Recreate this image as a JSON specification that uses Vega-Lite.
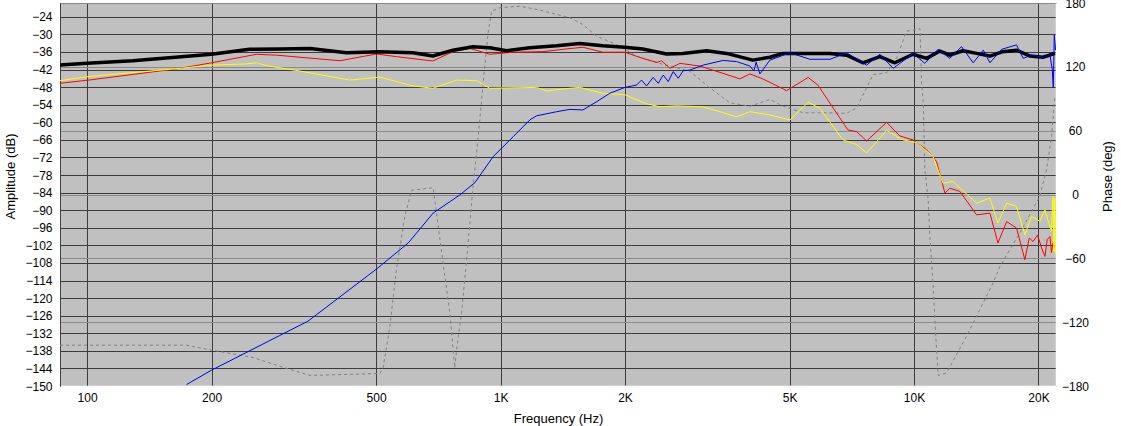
{
  "$schema": "https://vega.github.io/schema/vega-lite/v6.json",
  "width": 996,
  "height": 383,
  "autosize": "none",
  "padding": {"left": 60, "top": 3, "right": 65, "bottom": 40},
  "background": "white",
  "datasets": {
    "phase": [
      {"freq": 86, "phase": -141.6}, {"freq": 174, "phase": -141.6}, {"freq": 200, "phase": -146.3},
      {"freq": 252, "phase": -153.2}, {"freq": 292, "phase": -161.4}, {"freq": 346, "phase": -170.1},
      {"freq": 511, "phase": -168.2}, {"freq": 520, "phase": -162.9}, {"freq": 540, "phase": -123.8},
      {"freq": 560, "phase": -70.5}, {"freq": 587, "phase": -20.4}, {"freq": 609, "phase": 4.0},
      {"freq": 687, "phase": 6.3}, {"freq": 700, "phase": -17.2}, {"freq": 726, "phase": -64.2},
      {"freq": 754, "phase": -111.2}, {"freq": 775, "phase": -162.9}, {"freq": 783, "phase": -145.7},
      {"freq": 805, "phase": -111.2}, {"freq": 835, "phase": -45.4}, {"freq": 858, "phase": 7.8},
      {"freq": 875, "phase": 39.2}, {"freq": 891, "phase": 70.5}, {"freq": 908, "phase": 105},
      {"freq": 933, "phase": 152}, {"freq": 951, "phase": 172.3}, {"freq": 996, "phase": 175.5},
      {"freq": 1114, "phase": 177}, {"freq": 1245, "phase": 173.3}, {"freq": 1472, "phase": 166.1},
      {"freq": 1582, "phase": 159.8}, {"freq": 1707, "phase": 148.8}, {"freq": 1908, "phase": 141},
      {"freq": 2133, "phase": 130}, {"freq": 2474, "phase": 122.2}, {"freq": 2870, "phase": 115.9},
      {"freq": 3208, "phase": 100.3}, {"freq": 3586, "phase": 86.2}, {"freq": 4009, "phase": 83},
      {"freq": 4481, "phase": 89.3}, {"freq": 4827, "phase": 83}, {"freq": 5395, "phase": 76.8},
      {"freq": 6146, "phase": 76.8}, {"freq": 6872, "phase": 76.2}, {"freq": 7265, "phase": 81.5},
      {"freq": 7680, "phase": 100.3}, {"freq": 7966, "phase": 112.8}, {"freq": 8586, "phase": 114.4},
      {"freq": 9078, "phase": 128.5}, {"freq": 9594, "phase": 153.5}, {"freq": 10340, "phase": 155.8},
      {"freq": 10430, "phase": 105}, {"freq": 10530, "phase": 86.2}, {"freq": 10620, "phase": 23.5},
      {"freq": 10820, "phase": -4.7}, {"freq": 10920, "phase": -39.2}, {"freq": 11090, "phase": -76.8},
      {"freq": 11300, "phase": -136.3}, {"freq": 11440, "phase": -170.1}, {"freq": 11990, "phase": -167.6},
      {"freq": 13400, "phase": -133.2}, {"freq": 15540, "phase": -83}, {"freq": 16140, "phase": -67.4},
      {"freq": 18030, "phase": -36}, {"freq": 20150, "phase": -1.6}, {"freq": 20920, "phase": 23.5},
      {"freq": 21520, "phase": 54.8}, {"freq": 21910, "phase": 92.4}
    ],
    "amp": [
      {"series": "black", "freq": 86, "db": -40.5}, {"series": "black", "freq": 100, "db": -39.9},
      {"series": "black", "freq": 129, "db": -39.0}, {"series": "black", "freq": 200, "db": -36.8},
      {"series": "black", "freq": 247, "db": -35.1}, {"series": "black", "freq": 292, "db": -35.0},
      {"series": "black", "freq": 346, "db": -34.8}, {"series": "black", "freq": 424, "db": -36.3},
      {"series": "black", "freq": 511, "db": -35.9}, {"series": "black", "freq": 614, "db": -36.3},
      {"series": "black", "freq": 686, "db": -37.4}, {"series": "black", "freq": 767, "db": -35.4},
      {"series": "black", "freq": 857, "db": -34.2}, {"series": "black", "freq": 942, "db": -34.6},
      {"series": "black", "freq": 1034, "db": -35.6}, {"series": "black", "freq": 1177, "db": -34.6},
      {"series": "black", "freq": 1366, "db": -33.9}, {"series": "black", "freq": 1555, "db": -33.1},
      {"series": "black", "freq": 1768, "db": -33.9}, {"series": "black", "freq": 1998, "db": -34.4},
      {"series": "black", "freq": 2208, "db": -35.0}, {"series": "black", "freq": 2522, "db": -36.7},
      {"series": "black", "freq": 2760, "db": -36.5}, {"series": "black", "freq": 3150, "db": -35.6},
      {"series": "black", "freq": 3521, "db": -36.5}, {"series": "black", "freq": 4074, "db": -38.8},
      {"series": "black", "freq": 4481, "db": -37.8}, {"series": "black", "freq": 4819, "db": -36.5},
      {"series": "black", "freq": 5387, "db": -36.5}, {"series": "black", "freq": 6263, "db": -36.5},
      {"series": "black", "freq": 6872, "db": -37.1}, {"series": "black", "freq": 7520, "db": -39.7},
      {"series": "black", "freq": 8270, "db": -37.6}, {"series": "black", "freq": 8990, "db": -39.7},
      {"series": "black", "freq": 9940, "db": -36.8}, {"series": "black", "freq": 10730, "db": -38.2},
      {"series": "black", "freq": 11550, "db": -35.7}, {"series": "black", "freq": 12210, "db": -37.1},
      {"series": "black", "freq": 13130, "db": -35.6}, {"series": "black", "freq": 14170, "db": -36.5},
      {"series": "black", "freq": 15260, "db": -37.4}, {"series": "black", "freq": 16400, "db": -35.9},
      {"series": "black", "freq": 17700, "db": -35.4}, {"series": "black", "freq": 19080, "db": -37.4},
      {"series": "black", "freq": 20500, "db": -37.8}, {"series": "black", "freq": 21920, "db": -36.5},

      {"series": "red", "freq": 86, "db": -46.7}, {"series": "red", "freq": 101, "db": -45.6},
      {"series": "red", "freq": 168, "db": -41.6}, {"series": "red", "freq": 200, "db": -39.7},
      {"series": "red", "freq": 257, "db": -36.8}, {"series": "red", "freq": 287, "db": -37.1},
      {"series": "red", "freq": 327, "db": -37.8}, {"series": "red", "freq": 409, "db": -39.0},
      {"series": "red", "freq": 501, "db": -36.7}, {"series": "red", "freq": 560, "db": -37.6},
      {"series": "red", "freq": 686, "db": -39.1}, {"series": "red", "freq": 767, "db": -35.9},
      {"series": "red", "freq": 843, "db": -34.8}, {"series": "red", "freq": 942, "db": -36.8},
      {"series": "red", "freq": 1071, "db": -36.1}, {"series": "red", "freq": 1266, "db": -35.9},
      {"series": "red", "freq": 1415, "db": -35.1}, {"series": "red", "freq": 1582, "db": -34.4},
      {"series": "red", "freq": 1768, "db": -36.1}, {"series": "red", "freq": 1998, "db": -36.1},
      {"series": "red", "freq": 2208, "db": -38.2}, {"series": "red", "freq": 2390, "db": -39.6},
      {"series": "red", "freq": 2450, "db": -39.0}, {"series": "red", "freq": 2568, "db": -41.6},
      {"series": "red", "freq": 2715, "db": -39.9}, {"series": "red", "freq": 3034, "db": -40.8},
      {"series": "red", "freq": 3450, "db": -43.3}, {"series": "red", "freq": 3793, "db": -45.2},
      {"series": "red", "freq": 4009, "db": -43.5}, {"series": "red", "freq": 4310, "db": -45.2},
      {"series": "red", "freq": 4919, "db": -49.2}, {"series": "red", "freq": 5546, "db": -44.7},
      {"series": "red", "freq": 5855, "db": -47.3}, {"series": "red", "freq": 6263, "db": -53.5},
      {"series": "red", "freq": 6920, "db": -62.6}, {"series": "red", "freq": 7268, "db": -63.2},
      {"series": "red", "freq": 7680, "db": -66.4}, {"series": "red", "freq": 8586, "db": -60.0},
      {"series": "red", "freq": 9246, "db": -64.7}, {"series": "red", "freq": 9940, "db": -66.0},
      {"series": "red", "freq": 10730, "db": -69.4}, {"series": "red", "freq": 11340, "db": -73.4},
      {"series": "red", "freq": 11880, "db": -84.2}, {"series": "red", "freq": 12210, "db": -82.5},
      {"series": "red", "freq": 12910, "db": -83.6}, {"series": "red", "freq": 14170, "db": -91.6},
      {"series": "red", "freq": 15260, "db": -91.0}, {"series": "red", "freq": 15960, "db": -101.2},
      {"series": "red", "freq": 16750, "db": -93.9}, {"series": "red", "freq": 17700, "db": -96.1},
      {"series": "red", "freq": 18540, "db": -106.9}, {"series": "red", "freq": 19000, "db": -99.5},
      {"series": "red", "freq": 19400, "db": -100.7}, {"series": "red", "freq": 19900, "db": -98.5},
      {"series": "red", "freq": 20350, "db": -102.9}, {"series": "red", "freq": 20730, "db": -105.8},
      {"series": "red", "freq": 21000, "db": -100.0}, {"series": "red", "freq": 21320, "db": -99.0},
      {"series": "red", "freq": 21500, "db": -104.5}, {"series": "red", "freq": 21680, "db": -101.2},
      {"series": "red", "freq": 22000, "db": -103.0},

      {"series": "yellow", "freq": 86, "db": -45.8}, {"series": "yellow", "freq": 101, "db": -44.4},
      {"series": "yellow", "freq": 168, "db": -41.6}, {"series": "yellow", "freq": 200, "db": -40.5},
      {"series": "yellow", "freq": 243, "db": -40.1}, {"series": "yellow", "freq": 257, "db": -39.7},
      {"series": "yellow", "freq": 272, "db": -40.7}, {"series": "yellow", "freq": 327, "db": -42.5},
      {"series": "yellow", "freq": 432, "db": -45.6}, {"series": "yellow", "freq": 511, "db": -44.6},
      {"series": "yellow", "freq": 614, "db": -47.6}, {"series": "yellow", "freq": 686, "db": -48.4},
      {"series": "yellow", "freq": 783, "db": -45.6}, {"series": "yellow", "freq": 875, "db": -45.8},
      {"series": "yellow", "freq": 942, "db": -48.4}, {"series": "yellow", "freq": 1222, "db": -48.1},
      {"series": "yellow", "freq": 1292, "db": -49.3}, {"series": "yellow", "freq": 1472, "db": -48.4},
      {"series": "yellow", "freq": 1555, "db": -48.1}, {"series": "yellow", "freq": 1768, "db": -50.1},
      {"series": "yellow", "freq": 1998, "db": -50.6}, {"series": "yellow", "freq": 2255, "db": -53.7},
      {"series": "yellow", "freq": 2429, "db": -54.7}, {"series": "yellow", "freq": 2666, "db": -54.4},
      {"series": "yellow", "freq": 3086, "db": -54.7}, {"series": "yellow", "freq": 3724, "db": -58.1},
      {"series": "yellow", "freq": 4009, "db": -56.4}, {"series": "yellow", "freq": 4481, "db": -57.5},
      {"series": "yellow", "freq": 5011, "db": -59.2}, {"series": "yellow", "freq": 5546, "db": -53.2},
      {"series": "yellow", "freq": 5921, "db": -55.2}, {"series": "yellow", "freq": 6730, "db": -66.0},
      {"series": "yellow", "freq": 7268, "db": -67.6}, {"series": "yellow", "freq": 7680, "db": -70.5},
      {"series": "yellow", "freq": 8586, "db": -62.8}, {"series": "yellow", "freq": 9400, "db": -66.0},
      {"series": "yellow", "freq": 10150, "db": -66.9}, {"series": "yellow", "freq": 11110, "db": -71.7},
      {"series": "yellow", "freq": 11750, "db": -80.8}, {"series": "yellow", "freq": 12420, "db": -80.2},
      {"series": "yellow", "freq": 14170, "db": -87.6}, {"series": "yellow", "freq": 15260, "db": -85.9},
      {"series": "yellow", "freq": 15960, "db": -94.4}, {"series": "yellow", "freq": 16750, "db": -87.6},
      {"series": "yellow", "freq": 17700, "db": -88.7}, {"series": "yellow", "freq": 18540, "db": -98.4},
      {"series": "yellow", "freq": 19240, "db": -92.1}, {"series": "yellow", "freq": 20150, "db": -93.8},
      {"series": "yellow", "freq": 20730, "db": -89.9}, {"series": "yellow", "freq": 21320, "db": -95.6},
      {"series": "yellow", "freq": 21500, "db": -97.0}, {"series": "yellow", "freq": 21680, "db": -85.3},
      {"series": "yellow", "freq": 21800, "db": -104.0}, {"series": "yellow", "freq": 21900, "db": -86.0},
      {"series": "yellow", "freq": 22000, "db": -105.0},

      {"series": "blue", "freq": 174, "db": -149.5}, {"series": "blue", "freq": 200, "db": -144.6},
      {"series": "blue", "freq": 292, "db": -132.8}, {"series": "blue", "freq": 342, "db": -127.9},
      {"series": "blue", "freq": 501, "db": -110.1}, {"series": "blue", "freq": 598, "db": -101.2},
      {"series": "blue", "freq": 687, "db": -91.0}, {"series": "blue", "freq": 797, "db": -84.8},
      {"series": "blue", "freq": 867, "db": -80.6}, {"series": "blue", "freq": 960, "db": -71.7},
      {"series": "blue", "freq": 1073, "db": -64.9}, {"series": "blue", "freq": 1177, "db": -59.2},
      {"series": "blue", "freq": 1222, "db": -57.8}, {"series": "blue", "freq": 1366, "db": -56.4},
      {"series": "blue", "freq": 1472, "db": -55.6}, {"series": "blue", "freq": 1582, "db": -55.8},
      {"series": "blue", "freq": 1707, "db": -53.0}, {"series": "blue", "freq": 1838, "db": -50.1},
      {"series": "blue", "freq": 1998, "db": -48.1}, {"series": "blue", "freq": 2133, "db": -47.3},
      {"series": "blue", "freq": 2193, "db": -45.6}, {"series": "blue", "freq": 2255, "db": -47.6},
      {"series": "blue", "freq": 2339, "db": -44.7}, {"series": "blue", "freq": 2406, "db": -46.7},
      {"series": "blue", "freq": 2474, "db": -43.9}, {"series": "blue", "freq": 2544, "db": -46.1},
      {"series": "blue", "freq": 2616, "db": -42.7}, {"series": "blue", "freq": 2690, "db": -45.0},
      {"series": "blue", "freq": 2766, "db": -42.4}, {"series": "blue", "freq": 2870, "db": -42.2},
      {"series": "blue", "freq": 3090, "db": -40.5}, {"series": "blue", "freq": 3455, "db": -38.9},
      {"series": "blue", "freq": 3724, "db": -39.3}, {"series": "blue", "freq": 4009, "db": -40.8},
      {"series": "blue", "freq": 4100, "db": -42.5}, {"series": "blue", "freq": 4150, "db": -39.5},
      {"series": "blue", "freq": 4240, "db": -43.5}, {"series": "blue", "freq": 4481, "db": -38.8},
      {"series": "blue", "freq": 5011, "db": -36.3}, {"series": "blue", "freq": 5600, "db": -38.5},
      {"series": "blue", "freq": 6263, "db": -38.5}, {"series": "blue", "freq": 6872, "db": -36.3},
      {"series": "blue", "freq": 7680, "db": -40.5}, {"series": "blue", "freq": 8270, "db": -36.8},
      {"series": "blue", "freq": 8906, "db": -41.6}, {"series": "blue", "freq": 9950, "db": -36.5},
      {"series": "blue", "freq": 10620, "db": -39.9}, {"series": "blue", "freq": 11440, "db": -35.1},
      {"series": "blue", "freq": 12210, "db": -38.2}, {"series": "blue", "freq": 13030, "db": -34.2},
      {"series": "blue", "freq": 13900, "db": -39.7}, {"series": "blue", "freq": 14710, "db": -35.4},
      {"series": "blue", "freq": 15260, "db": -39.7}, {"series": "blue", "freq": 16290, "db": -35.1},
      {"series": "blue", "freq": 17700, "db": -33.6}, {"series": "blue", "freq": 18370, "db": -38.2},
      {"series": "blue", "freq": 19240, "db": -37.1}, {"series": "blue", "freq": 20530, "db": -37.8},
      {"series": "blue", "freq": 21320, "db": -37.1}, {"series": "blue", "freq": 21600, "db": -42.1},
      {"series": "blue", "freq": 21720, "db": -48.1}, {"series": "blue", "freq": 21840, "db": -30.2},
      {"series": "blue", "freq": 22000, "db": -35.4}
    ]
  },
  "encoding": {
    "x": {
      "field": "freq",
      "type": "quantitative",
      "scale": {"type": "log", "domain": [86, 22050], "nice": false},
      "axis": {
        "orient": "bottom",
        "title": "Frequency (Hz)",
        "values": [100, 200, 500, 1000, 2000, 5000, 10000, 20000],
        "labelExpr": "datum.value >= 1000 ? (datum.value / 1000) + 'K' : datum.value",
        "grid": true,
        "gridColor": "#3c3c3c",
        "gridOpacity": 1,
        "ticks": false,
        "labelPadding": 6,
        "labelDx": -1.5,
        "domainColor": "#ffffff",
        "domainWidth": 1.5,
        "titleY": 32,
        "titleBaseline": "middle"
      }
    }
  },
  "layer": [
    {
      "data": {"name": "phase"},
      "mark": {"type": "line", "color": "#808080", "strokeDash": [3, 3], "strokeWidth": 1, "clip": true},
      "encoding": {
        "y": {
          "field": "phase",
          "type": "quantitative",
          "scale": {"domain": [-180, 180], "nice": false, "zero": false},
          "axis": {
            "orient": "right",
            "title": "Phase (deg)",
            "values": [-180, -120, -60, 0, 60, 120, 180],
            "grid": true,
            "gridColor": "#8a8a8a",
            "gridOpacity": 1,
            "ticks": false,
            "labelAlign": "center",
            "labelPadding": 19,
            "domainColor": "#ffffff",
            "domainWidth": 1.5,
            "titleAngle": 270,
            "titleX": 51,
            "titleY": 173,
            "titleAlign": "center",
            "titleBaseline": "middle"
          }
        }
      }
    },
    {
      "data": {"name": "amp"},
      "encoding": {
        "y": {
          "field": "db",
          "type": "quantitative",
          "scale": {"domain": [-150, -19.3], "nice": false, "zero": false},
          "axis": {
            "orient": "left",
            "title": "Amplitude (dB)",
            "values": [-24, -30, -36, -42, -48, -54, -60, -66, -72, -78, -84, -90, -96, -102, -108, -114, -120, -126, -132, -138, -144, -150],
            "grid": true,
            "gridColor": "#3c3c3c",
            "gridOpacity": 1,
            "ticks": false,
            "labelPadding": 8,
            "domainColor": "#404040",
            "titleAngle": 270,
            "titleX": -50,
            "titleY": 173,
            "titleAlign": "center",
            "titleBaseline": "middle"
          }
        }
      },
      "layer": [
        {
          "transform": [{"filter": "datum.series == 'red'"}],
          "mark": {"type": "line", "color": "#ff0000", "strokeWidth": 1, "clip": true}
        },
        {
          "transform": [{"filter": "datum.series == 'yellow'"}],
          "mark": {"type": "line", "color": "#ffff00", "strokeWidth": 1, "clip": true}
        },
        {
          "transform": [{"filter": "datum.series == 'black'"}],
          "mark": {"type": "line", "color": "#000000", "strokeWidth": 3.5, "strokeJoin": "round", "clip": true}
        },
        {
          "transform": [{"filter": "datum.series == 'blue'"}],
          "mark": {"type": "line", "color": "#0000ee", "strokeWidth": 1, "clip": true}
        }
      ]
    }
  ],
  "resolve": {"scale": {"y": "independent"}},
  "config": {
    "view": {"fill": "#c0c0c0", "stroke": "#404040", "strokeWidth": 1},
    "axis": {
      "labelFont": "Liberation Sans",
      "labelFontSize": 12,
      "labelColor": "#000000",
      "titleFont": "Liberation Sans",
      "titleFontSize": 13,
      "titleFontWeight": "normal",
      "titleColor": "#000000"
    }
  }
}
